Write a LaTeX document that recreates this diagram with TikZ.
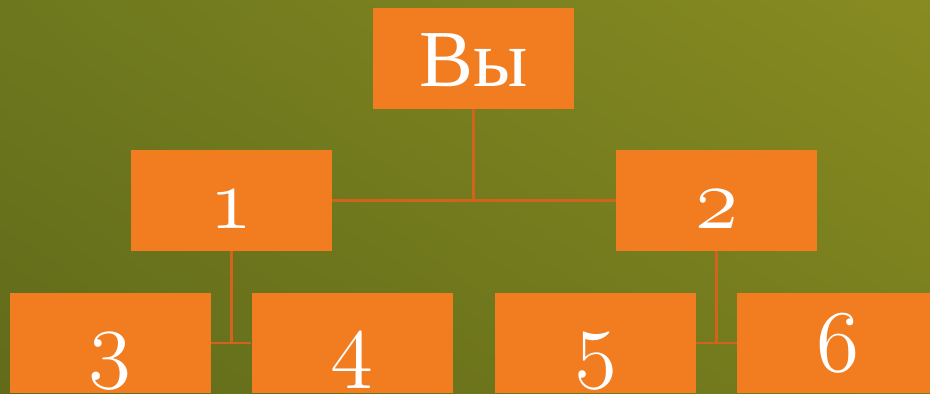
\RequirePackage{fix-cm}
\documentclass[tikz,border=0pt]{standalone}
\usepackage{fontspec}
\setmainfont{Liberation Serif}
\usepackage{tikz}
\usetikzlibrary{shadings}
\definecolor{olivedark}{HTML}{616B1A}
\definecolor{olivelight}{HTML}{888B21}
\definecolor{oliveleft}{HTML}{6D781E}
\definecolor{oliveright}{HTML}{787E1E}
\definecolor{boxorange}{HTML}{F27C20}
\definecolor{linkorange}{HTML}{D0641C}
\newcommand{\oldnum}[1]{{\fontencoding{OML}\fontfamily{cmm}\fontseries{m}\fontshape{it}\selectfont #1}}
\tikzset{
  every picture/.style={line join=round},
  member/.style={fill=boxorange, text=white, inner sep=0pt,
    minimum width=4.02cm, minimum height=2.01cm,
    text height=1.12cm, text depth=0pt, font=\fontsize{50}{60}\selectfont},
  link/.style={draw=linkorange, line width=1.4pt},
}

\begin{document}
\begin{tikzpicture}[x=0.02cm,y=-0.02cm]
\useasboundingbox (0,0) rectangle (930,393);
\clip (0,0) rectangle (930,393);
\shade[upper left=oliveleft, upper right=olivelight, lower left=olivedark, lower right=oliveright]
  (0,0) rectangle (930,393);
% top
\node[member, font=\fontsize{46}{55}\selectfont] (you) at (473.5,58.5) {Вы};
% second row
\node[member] (n1) at (231.5,200.3) {\oldnum{1}};
\node[member] (n2) at (716.5,200.3) {\oldnum{2}};
% third row
\foreach \name/\x/\lab in {n3/110.5/3, n4/352.2/4, n5/595.5/5, n6/837.5/6}{
  \node[member] (\name) at (\x,343.2) {\oldnum{\lab}};
}
% links
\draw[link] (you.south) -- (you.south |- n1.east);
\draw[link] (n1.east) -- (n2.west);
\draw[link] (n1.south) -- (n1.south |- n3.east);
\draw[link] (n3.east) -- (n4.west);
\draw[link] (n2.south) -- (n2.south |- n5.east);
\draw[link] (n5.east) -- (n6.west);
\end{tikzpicture}
\end{document}
